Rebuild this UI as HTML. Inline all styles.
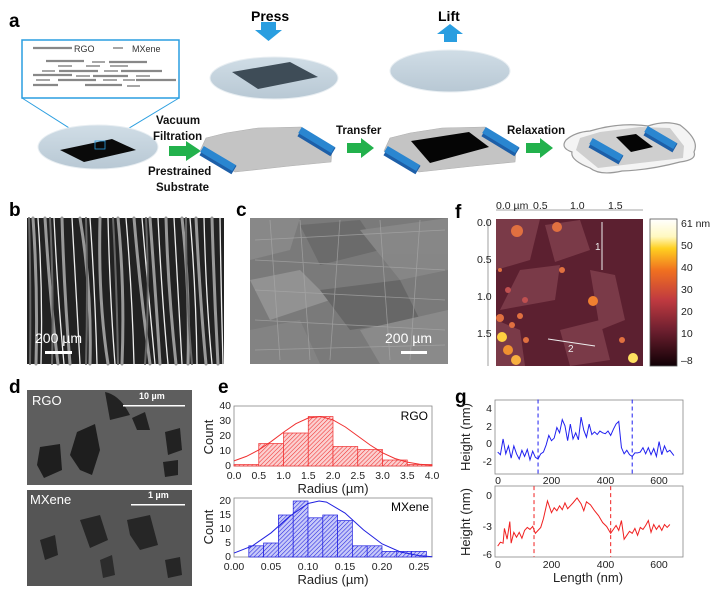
<!DOCTYPE html>
<html><head><meta charset="utf-8"><style>
html,body{margin:0;padding:0;background:#fff}
svg{display:block;font-family:"Liberation Sans",Arial,sans-serif}
.lb{font-weight:bold;font-size:19px}
.ax{font-size:10.5px;fill:#222}
.at{font-size:13px;fill:#222}
</style></head><body>
<svg width="710" height="597" viewBox="0 0 710 597" xmlns="http://www.w3.org/2000/svg">
<defs>
<pattern id="hr" width="3" height="3" patternUnits="userSpaceOnUse" patternTransform="rotate(45)"><rect width="3" height="3" fill="#fbd0d0"/><line x1="0" y1="0" x2="0" y2="3" stroke="#f03030" stroke-width="1.1"/></pattern>
<pattern id="hb" width="3" height="3" patternUnits="userSpaceOnUse" patternTransform="rotate(45)"><rect width="3" height="3" fill="#c8caf8"/><line x1="0" y1="0" x2="0" y2="3" stroke="#2020e0" stroke-width="1.1"/></pattern>
<linearGradient id="cb" x1="0" y1="0" x2="0" y2="1">
<stop offset="0" stop-color="#fff"/><stop offset="0.12" stop-color="#fff8c0"/><stop offset="0.2" stop-color="#ffd020"/><stop offset="0.35" stop-color="#f07020"/><stop offset="0.55" stop-color="#c03a40"/><stop offset="0.75" stop-color="#702030"/><stop offset="1" stop-color="#100005"/></linearGradient>
<linearGradient id="disc" x1="0" y1="0" x2="0" y2="1"><stop offset="0" stop-color="#d0dde6"/><stop offset="1" stop-color="#b8c8d4"/></linearGradient>
</defs>

<!-- Panel a -->
<text x="9" y="27" class="lb" font-size="20">a</text>
<text x="251" y="21" font-size="14" font-weight="bold">Press</text>
<polygon points="261,22 276,22 276,30 282,30 268.5,41 255,30 261,30" fill="#2a9ee0"/>
<text x="438" y="21" font-size="14" font-weight="bold">Lift</text>
<polygon points="444,42 457,42 457,34 463,34 450,24 437,34 444,34" fill="#2a9ee0"/>

<ellipse cx="274" cy="78" rx="64" ry="21" fill="url(#disc)" stroke="#e8eef2"/>
<polygon points="232,72 290,62 318,77 258,89" fill="#3e4c57"/>
<ellipse cx="450" cy="71" rx="60" ry="21" fill="url(#disc)" stroke="#e8eef2"/>

<!-- inset -->
<rect x="22" y="40" width="157" height="58" fill="#fff" stroke="#2a9ee0" stroke-width="1.5"/>
<line x1="22" y1="98" x2="96" y2="145" stroke="#2a9ee0" stroke-width="1"/>
<line x1="179" y1="98" x2="106" y2="142" stroke="#2a9ee0" stroke-width="1"/>
<g stroke="#888" stroke-width="2.2">
<line x1="33" y1="48" x2="72" y2="48"/><line x1="113" y1="48" x2="123" y2="48" stroke-width="1.5"/>
<line x1="46" y1="61" x2="84" y2="61"/><line x1="92" y1="62" x2="105" y2="62" stroke-width="1.5"/><line x1="109" y1="62" x2="147" y2="62"/>
<line x1="58" y1="66" x2="72" y2="66" stroke-width="1.5"/><line x1="86" y1="66" x2="100" y2="66" stroke-width="1.5"/><line x1="110" y1="66" x2="128" y2="66" stroke-width="1.5"/>
<line x1="42" y1="71" x2="55" y2="71" stroke-width="1.5"/><line x1="59" y1="71" x2="98" y2="71"/><line x1="104" y1="71" x2="118" y2="71" stroke-width="1.5"/><line x1="121" y1="71" x2="162" y2="71"/>
<line x1="33" y1="75" x2="72" y2="75"/><line x1="76" y1="76" x2="90" y2="76" stroke-width="1.5"/><line x1="93" y1="76" x2="128" y2="76"/><line x1="136" y1="76" x2="150" y2="76" stroke-width="1.5"/>
<line x1="36" y1="80" x2="50" y2="80" stroke-width="1.5"/><line x1="58" y1="80" x2="96" y2="80"/><line x1="103" y1="80" x2="117" y2="80" stroke-width="1.5"/><line x1="123" y1="80" x2="135" y2="80" stroke-width="1.5"/><line x1="136" y1="80" x2="176" y2="80"/>
<line x1="33" y1="85" x2="58" y2="85"/><line x1="85" y1="85" x2="122" y2="85"/><line x1="127" y1="86" x2="140" y2="86" stroke-width="1.5"/>
</g>
<text x="74" y="52" font-size="9" fill="#333">RGO</text>
<text x="132" y="52" font-size="9" fill="#333">MXene</text>

<ellipse cx="98" cy="147" rx="60" ry="22" fill="url(#disc)" stroke="#e8eef2"/>
<polygon points="60,150 112,139 136,150 84,162" fill="#0a0a0a"/>
<rect x="95" y="141" width="10" height="8" fill="none" stroke="#2a9ee0" stroke-width="0.8"/>

<g font-size="11.5" font-weight="bold" fill="#111">
<text x="156" y="124">Vacuum</text><text x="153" y="140">Filtration</text>
<text x="148" y="175">Prestrained</text><text x="156" y="191">Substrate</text>
<text x="336" y="134">Transfer</text>
<text x="507" y="134">Relaxation</text>
</g>
<g fill="#22b14c">
<polygon points="169,146 186,146 186,141 201,151 186,161 186,156 169,156"/>
<polygon points="347,143 361,143 361,138 374,148 361,158 361,153 347,153"/>
<polygon points="526,143 540,143 540,138 553,148 540,158 540,153 526,153"/>
</g>
<!-- substrate 1 -->
<polygon points="206,138 226,133 258,128 301,127 332,150 331,162 290,166 235,172 200,151" fill="#c4c4c4" stroke="#b0b0b0" stroke-width="0.6" stroke-linejoin="round"/>
<line x1="202" y1="151" x2="234" y2="170" stroke="#1d5fa8" stroke-width="10"/>
<line x1="202" y1="149" x2="234" y2="168" stroke="#2a86d0" stroke-width="7"/>
<line x1="300" y1="132" x2="333" y2="152" stroke="#1d5fa8" stroke-width="10"/>
<line x1="300" y1="130" x2="333" y2="150" stroke="#2a86d0" stroke-width="7"/>
<!-- substrate 2 -->
<polygon points="390,138 410,133 442,128 485,127 516,150 515,162 474,166 419,172 384,151" fill="#c4c4c4" stroke="#b0b0b0" stroke-width="0.6" stroke-linejoin="round"/>
<polygon points="411,141 469,132 489,147 430,163" fill="#050505"/>
<line x1="386" y1="151" x2="418" y2="170" stroke="#1d5fa8" stroke-width="10"/>
<line x1="386" y1="149" x2="418" y2="168" stroke="#2a86d0" stroke-width="7"/>
<line x1="484" y1="132" x2="517" y2="152" stroke="#1d5fa8" stroke-width="10"/>
<line x1="484" y1="130" x2="517" y2="150" stroke="#2a86d0" stroke-width="7"/>
<!-- substrate 3 -->
<path d="M566,140 Q575,132 590,131 Q620,122 648,126 Q665,120 680,125 Q700,140 694,152 Q697,160 680,162 Q650,170 622,171 Q600,176 590,168 Q570,160 572,152 Q560,148 566,140Z" fill="#f4f4f4" stroke="#999" stroke-width="1.2"/>
<polygon points="580,138 600,132 640,127 670,128 684,146 683,158 640,163 598,168 576,150" fill="#cfcfcf"/>
<polygon points="616,137 636,134 653,147 631,152" fill="#050505"/>
<line x1="591" y1="143" x2="621" y2="160" stroke="#1d5fa8" stroke-width="10"/>
<line x1="591" y1="141" x2="621" y2="158" stroke="#2a86d0" stroke-width="7"/>
<line x1="646" y1="131" x2="675" y2="148" stroke="#1d5fa8" stroke-width="10"/>
<line x1="646" y1="129" x2="675" y2="146" stroke="#2a86d0" stroke-width="7"/>

<!-- Panel b -->
<text x="9" y="216" class="lb">b</text>
<rect x="27" y="218" width="197" height="146" fill="#222"/>
<g fill="none" stroke-linecap="round">
<g stroke="#999" stroke-width="3">
<path d="M33,218 Q38,290 36,364"/><path d="M45,218 Q50,300 58,364"/><path d="M62,218 Q64,290 70,364"/><path d="M80,218 Q92,290 90,364"/><path d="M100,218 Q98,300 108,364"/><path d="M118,218 Q125,290 122,364"/><path d="M134,218 Q140,290 150,364"/><path d="M150,218 Q156,300 160,364"/><path d="M166,218 Q168,290 176,364"/><path d="M182,218 Q190,290 188,364"/><path d="M196,218 Q200,300 206,364"/><path d="M212,218 Q214,290 218,364"/>
</g>
<g stroke="#eee" stroke-width="1.3">
<path d="M38,218 Q43,290 41,364"/><path d="M54,218 Q58,300 64,364"/><path d="M72,218 Q76,290 80,364"/><path d="M90,218 Q95,290 97,364"/><path d="M108,218 Q110,300 115,364"/><path d="M126,218 Q132,290 134,364"/><path d="M142,218 Q148,290 155,364"/><path d="M158,218 Q162,300 168,364"/><path d="M174,218 Q178,290 182,364"/><path d="M190,218 Q196,290 197,364"/><path d="M204,218 Q206,300 212,364"/><path d="M220,218 Q221,290 223,364"/>
</g>
<g stroke="#666" stroke-width="2">
<path d="M29,218 Q31,290 30,364"/><path d="M50,218 Q54,290 52,364"/><path d="M86,218 Q88,290 86,364"/><path d="M113,218 Q117,290 118,364"/><path d="M146,218 Q150,300 145,364"/><path d="M186,218 Q186,300 192,364"/>
</g>
</g>
<text x="35" y="343" font-size="14" fill="#fff">200 µm</text>
<rect x="45" y="351" width="27" height="3" fill="#fff"/>

<!-- Panel c -->
<text x="236" y="216" class="lb">c</text>
<rect x="250" y="218" width="198" height="146" fill="#7a7a7a"/>
<g opacity="0.9">
<polygon points="250,218 300,218 290,250 250,260" fill="#8a8a8a"/>
<polygon points="300,225 360,220 380,250 320,265" fill="#6a6a6a"/>
<polygon points="360,230 448,218 448,270 400,280" fill="#888"/>
<polygon points="250,280 300,270 330,300 270,320" fill="#959595"/>
<polygon points="320,290 400,280 420,320 350,330" fill="#666"/>
<polygon points="250,330 300,320 320,364 250,364" fill="#858585"/>
<polygon points="360,330 448,310 448,364 380,364" fill="#8c8c8c"/>
</g>
<g stroke="#aaa" stroke-width="0.8" opacity="0.7">
<path d="M255,240 L445,230 M255,260 L445,270 M255,290 L445,300 M255,320 L445,330 M255,350 L445,345 M270,220 L280,360 M300,220 L310,360 M340,220 L330,360 M380,220 L390,360 M420,220 L410,360"/>
</g>
<text x="385" y="343" font-size="14" fill="#fff">200 µm</text>
<rect x="401" y="351" width="26" height="3" fill="#fff"/>

<!-- Panel d -->
<text x="9" y="393" class="lb">d</text>
<rect x="27" y="390" width="165" height="95" fill="#5e5e5e"/>
<path d="M105,392 Q120,395 130,415 L110,420 Z" fill="#222"/>
<polygon points="77,432 95,424 100,450 92,475 80,470 70,455" fill="#1e1e1e"/>
<polygon points="40,447 60,444 62,470 44,478 37,465" fill="#1e1e1e"/>
<polygon points="132,418 145,412 150,430 137,430" fill="#222"/>
<polygon points="165,432 180,428 182,450 168,455" fill="#222"/>
<polygon points="163,462 178,460 178,475 165,477" fill="#222"/>
<text x="32" y="405" font-size="13" fill="#fff">RGO</text>
<text x="139" y="399" font-size="9" fill="#fff" font-weight="bold">10 µm</text>
<rect x="123" y="405" width="62" height="1.5" fill="#fff"/>
<rect x="27" y="490" width="165" height="96" fill="#555"/>
<polygon points="80,520 100,515 108,540 90,548" fill="#262626"/>
<polygon points="127,520 150,515 158,545 140,550 130,535" fill="#262626"/>
<polygon points="40,540 55,535 58,555 45,560" fill="#262626"/>
<polygon points="165,560 180,557 182,575 168,578" fill="#262626"/>
<polygon points="100,560 112,555 115,575 103,578" fill="#2c2c2c"/>
<text x="30" y="504" font-size="13" fill="#fff">MXene</text>
<text x="148" y="498" font-size="9" fill="#fff" font-weight="bold">1 µm</text>
<rect x="131" y="504" width="54" height="1.5" fill="#fff"/>

<!-- Panel e -->
<text x="218" y="393" class="lb">e</text>
<rect x="234" y="406" width="198" height="60" fill="#fff" stroke="#888" stroke-width="0.8"/>
<g fill="url(#hr)" stroke="#f03030" stroke-width="0.7">
<rect x="234" y="464.5" width="24.75" height="1.5"/>
<rect x="258.75" y="443.5" width="24.75" height="22.5"/>
<rect x="283.5" y="433" width="24.75" height="33"/>
<rect x="308.25" y="416.5" width="24.75" height="49.5"/>
<rect x="333" y="446.5" width="24.75" height="19.5"/>
<rect x="357.75" y="449.5" width="24.75" height="16.5"/>
<rect x="382.5" y="460" width="24.75" height="6"/>
<rect x="407.25" y="464.5" width="24.75" height="1.5"/>
</g>
<g transform="translate(234,466) scale(49.5,-1.5)">
<polyline fill="none" stroke="#f03030" stroke-width="1" vector-effect="non-scaling-stroke" points="0,3.4 0.25,6.4 0.5,10.7 0.75,16.3 1,22.5 1.25,28.2 1.5,32 1.75,33 2,30.7 2.25,26 2.5,20 2.75,14 3,8.8 3.25,5 3.5,2.6 3.75,1.2 4,0.5"/>
</g>
<g class="ax" text-anchor="end">
<text x="231" y="409">40</text><text x="231" y="424">30</text><text x="231" y="439">20</text><text x="231" y="454">10</text><text x="231" y="469">0</text>
</g>
<g class="ax" text-anchor="middle">
<text x="234" y="479">0.0</text><text x="258.8" y="479">0.5</text><text x="283.5" y="479">1.0</text><text x="308.3" y="479">1.5</text><text x="333" y="479">2.0</text><text x="357.8" y="479">2.5</text><text x="382.5" y="479">3.0</text><text x="407.3" y="479">3.5</text><text x="432" y="479">4.0</text>
</g>
<text x="333" y="493" class="at" text-anchor="middle">Radius (µm)</text>
<text x="428" y="420" font-size="12" text-anchor="end">RGO</text>
<text transform="translate(213,437) rotate(-90)" class="at" text-anchor="middle">Count</text>

<rect x="234" y="498" width="198" height="59" fill="#fff" stroke="#888" stroke-width="0.8"/>
<g fill="url(#hb)" stroke="#2020e0" stroke-width="0.7">
<rect x="248.8" y="545.8" width="14.8" height="11.2"/>
<rect x="263.6" y="543" width="14.8" height="14"/>
<rect x="278.4" y="515" width="14.8" height="42"/>
<rect x="293.2" y="501" width="14.8" height="56"/>
<rect x="308" y="517.8" width="14.8" height="39.2"/>
<rect x="322.8" y="515" width="14.8" height="42"/>
<rect x="337.6" y="520.6" width="14.8" height="36.4"/>
<rect x="352.4" y="545.8" width="14.8" height="11.2"/>
<rect x="367.2" y="545.8" width="14.8" height="11.2"/>
<rect x="382" y="551.4" width="14.8" height="5.6"/>
<rect x="396.8" y="551.4" width="14.8" height="5.6"/>
<rect x="411.6" y="551.4" width="14.8" height="5.6"/>
</g>
<g transform="translate(234,557) scale(740,-2.8)">
<polyline fill="none" stroke="#2020e0" stroke-width="1" vector-effect="non-scaling-stroke" points="0,1.4 0.025,4 0.05,8.6 0.075,14.5 0.1,19.1 0.115,20 0.125,19.6 0.15,15.7 0.175,9.7 0.2,4.7 0.225,1.8 0.25,0.5 0.268,0.1"/>
</g>
<g class="ax" text-anchor="end">
<text x="231" y="504">20</text><text x="231" y="518">15</text><text x="231" y="532">10</text><text x="231" y="546">5</text><text x="231" y="560">0</text>
</g>
<g class="ax" text-anchor="middle">
<text x="234" y="570">0.00</text><text x="271" y="570">0.05</text><text x="308" y="570">0.10</text><text x="345" y="570">0.15</text><text x="382" y="570">0.20</text><text x="419" y="570">0.25</text>
</g>
<text x="333" y="584" class="at" text-anchor="middle">Radius (µm)</text>
<text x="429" y="511" font-size="12" text-anchor="end">MXene</text>
<text transform="translate(213,527) rotate(-90)" class="at" text-anchor="middle">Count</text>

<!-- Panel f -->
<text x="455" y="218" class="lb">f</text>
<rect x="496" y="219" width="147" height="147" fill="#5c2030"/>
<g fill="#7a3a48">
<polygon points="496,219 540,219 530,260 496,270"/>
<polygon points="545,225 580,220 590,250 555,262"/>
<polygon points="590,270 615,275 625,320 600,330"/>
<polygon points="520,270 560,265 555,300 500,310"/>
<polygon points="560,330 600,320 610,360 570,366"/>
<polygon points="496,320 520,330 525,366 496,366"/>
</g>
<g fill="#e07040">
<circle cx="517" cy="231" r="6"/><circle cx="557" cy="227" r="5"/><circle cx="562" cy="270" r="3"/>
<circle cx="593" cy="301" r="5" fill="#f08030"/>
<circle cx="500" cy="318" r="4"/><circle cx="512" cy="325" r="3"/><circle cx="520" cy="316" r="3"/>
<circle cx="502" cy="337" r="5" fill="#ffd040"/><circle cx="508" cy="350" r="5" fill="#f09030"/>
<circle cx="516" cy="360" r="5" fill="#f8b040"/><circle cx="526" cy="340" r="3"/>
<circle cx="633" cy="358" r="5" fill="#ffe060"/><circle cx="622" cy="340" r="3"/>
<circle cx="500" cy="270" r="2"/><circle cx="508" cy="290" r="3" fill="#c05050"/><circle cx="525" cy="300" r="3" fill="#c05050"/>
</g>
<line x1="602" y1="222" x2="602" y2="270" stroke="#eee" stroke-width="1"/>
<text x="595" y="250" font-size="10" fill="#eee">1</text>
<line x1="548" y1="339" x2="595" y2="346" stroke="#eee" stroke-width="1"/>
<text x="568" y="352" font-size="10" fill="#eee">2</text>
<line x1="496" y1="210" x2="643" y2="210" stroke="#888" stroke-width="0.8"/>
<line x1="488" y1="219" x2="488" y2="366" stroke="#888" stroke-width="0.8"/>
<g class="ax" fill="#444">
<text x="496" y="209">0.0 µm</text><text x="533" y="209">0.5</text><text x="570" y="209">1.0</text><text x="608" y="209">1.5</text>
<text x="477" y="226">0.0</text><text x="477" y="263">0.5</text><text x="477" y="300">1.0</text><text x="477" y="337">1.5</text>
</g>
<rect x="650" y="219" width="27" height="147" fill="url(#cb)" stroke="#555" stroke-width="0.8"/>
<g class="ax" fill="#444">
<text x="681" y="227">61 nm</text><text x="681" y="249">50</text><text x="681" y="271">40</text><text x="681" y="293">30</text><text x="681" y="315">20</text><text x="681" y="337">10</text><text x="681" y="364">–8</text>
</g>

<!-- Panel g -->
<text x="455" y="403" class="lb">g</text>
<rect x="495" y="400" width="188" height="74" fill="#fff" stroke="#888" stroke-width="0.8"/>
<g transform="translate(497.7,443.3) scale(0.269,-8.75)">
<line x1="150" y1="5" x2="150" y2="-3.5" stroke="#2020f0" stroke-width="1" stroke-dasharray="4,3" vector-effect="non-scaling-stroke"/>
<line x1="500" y1="5" x2="500" y2="-3.5" stroke="#2020f0" stroke-width="1" stroke-dasharray="4,3" vector-effect="non-scaling-stroke"/>
<polyline fill="none" stroke="#2020f0" stroke-width="1" vector-effect="non-scaling-stroke" points="0,-1 10,-1.3 20,0.5 30,-1.2 40,-0.3 50,-1.7 60,-0.3 70,-1.2 80,-1.8 90,-0.8 100,-1.5 110,-0.7 120,-1.9 130,-0.9 140,-1.6 150,-1.8 160,-1.2 170,-1 180,-0.2 190,0.9 200,0.3 210,0.6 220,1.8 230,1.2 240,2.7 250,2 260,0.3 270,2.2 280,0.5 290,1.2 300,0.4 310,3 320,1.5 330,0.7 340,2.2 350,1 360,1.3 370,1 380,1.4 390,1.2 400,1.1 410,1.4 420,0.9 430,1.6 440,2.2 450,2.5 460,-0.5 470,-1.2 480,-0.8 490,-1.3 500,-1.5 510,-1.1 520,-1.1 530,-1 540,-0.5 550,-1.2 560,-0.5 570,-1.3 580,-0.6 590,-1.5 600,0.2 610,-1.3 620,-0.3 630,-1 640,-0.8 655,-1.4"/>
</g>
<g class="ax" text-anchor="end">
<text x="492" y="412">4</text><text x="492" y="430">2</text><text x="492" y="447">0</text><text x="492" y="465">-2</text>
</g>
<g class="ax" text-anchor="middle">
<text x="498" y="484">0</text><text x="551.5" y="484">200</text><text x="605.5" y="484">400</text><text x="659" y="484">600</text>
</g>
<text transform="translate(470,437) rotate(-90)" class="at" text-anchor="middle">Height (nm)</text>

<rect x="495" y="486" width="188" height="71" fill="#fff" stroke="#888" stroke-width="0.8"/>
<g transform="translate(497.7,495) scale(0.269,-9.83)">
<line x1="135" y1="0.9" x2="135" y2="-6.3" stroke="#f02020" stroke-width="1" stroke-dasharray="4,3" vector-effect="non-scaling-stroke"/>
<line x1="420" y1="0.9" x2="420" y2="-6.3" stroke="#f02020" stroke-width="1" stroke-dasharray="4,3" vector-effect="non-scaling-stroke"/>
<polyline fill="none" stroke="#f02020" stroke-width="1" vector-effect="non-scaling-stroke" points="0,-5.2 10,-4.8 20,-4.9 25,-3.4 35,-4.5 45,-2.7 50,-4.9 60,-3.8 70,-4.3 80,-3.8 90,-4.4 100,-3.6 110,-3.3 120,-3.5 130,-3.2 140,-3.9 150,-3.6 160,-3.3 170,-2.4 185,-0.6 200,-1.8 210,-1.3 220,-1.6 230,-1.1 240,-1.5 250,-0.8 260,-1.4 270,-1.1 280,-0.8 295,-0.3 310,-0.9 320,-1.6 330,-0.7 345,-1 360,-1.6 375,-2.1 390,-2.8 405,-3.2 420,-3.9 430,-3.5 440,-3.1 450,-3.6 460,-2.6 470,-4.5 480,-4.1 490,-3.7 500,-3.9 510,-3.4 520,-4.1 530,-3.3 540,-3.5 550,-3.1 560,-2.6 570,-3.8 580,-3 590,-3.5 600,-3.1 610,-3.6 620,-3 630,-3.3 640,-3"/>
</g>
<g class="ax" text-anchor="end">
<text x="492" y="499">0</text><text x="492" y="530">-3</text><text x="492" y="558">-6</text>
</g>
<g class="ax" text-anchor="middle">
<text x="498" y="568">0</text><text x="551.5" y="568">200</text><text x="605.5" y="568">400</text><text x="659" y="568">600</text>
</g>
<text x="588" y="582" class="at" text-anchor="middle">Length (nm)</text>
<text transform="translate(470,522) rotate(-90)" class="at" text-anchor="middle">Height (nm)</text>
</svg>
</body></html>
